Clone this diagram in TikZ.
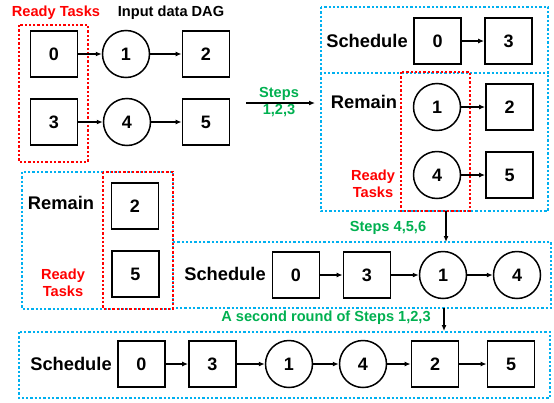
\documentclass[tikz,border=0pt]{standalone}
\usepackage{fontspec}
\setmainfont{Liberation Sans}
\usetikzlibrary{arrows.meta}
\definecolor{myred}{RGB}{255,0,0}
\definecolor{myblue}{RGB}{0,176,240}
\definecolor{mygreen}{RGB}{0,176,80}
\begin{document}
\begin{tikzpicture}[x=1pt,y=-1pt,
 sq/.style={draw, line width=1.8pt, minimum width=47pt, minimum height=46pt, inner sep=0pt, font=\bfseries\fontsize{18}{20}\selectfont},
 cir/.style={draw, circle, line width=1.5pt, minimum size=47pt, inner sep=0pt, font=\bfseries\fontsize{18}{20}\selectfont},
 big/.style={font=\bfseries\fontsize{18.3}{20}\selectfont, inner sep=0pt},
 small/.style={font=\bfseries\fontsize{14.6}{17}\selectfont, inner sep=0pt, align=center},
 arr/.style={-{Latex[length=6pt,width=5pt]}, line width=1.3pt},
 bluebox/.style={draw=myblue, line width=2.7pt, dash pattern=on 2.3pt off 2pt},
 redbox/.style={draw=myred, line width=2.7pt, dash pattern=on 2.3pt off 2pt},
]
\useasboundingbox (0,0) rectangle (554,402);

% ---------- dotted frames ----------
\draw[redbox] (19,25) rectangle (88,162);
\draw[bluebox] (321,7) rectangle (548,73);
\draw[bluebox] (321,73) -- (321,211) -- (548,211) -- (548,73);
\draw[redbox] (401,72) rectangle (470,211);
\draw[bluebox] (22,172) rectangle (173,309);
\draw[bluebox] (173,242) rectangle (551,308);
\draw[redbox] (103,172) rectangle (173,309);
\draw[bluebox] (19,332) rectangle (550,398);

% ---------- input DAG ----------
\node[small, text=myred] (lready) at (56,13) {Ready Tasks};
\node[small] (ldag) at (171,13) {Input data DAG};
\node[sq] (a0) at (54,54) {0};
\node[cir] (a1) at (126,54) {1};
\node[sq] (a2) at (206,54) {2};
\node[sq] (a3) at (54,122) {3};
\node[cir] (a4) at (127,122) {4};
\node[sq] (a5) at (206,122) {5};
\draw[arr] (a0) -- (a1);
\draw[arr] (a1) -- (a2);
\draw[arr] (a3) -- (a4);
\draw[arr] (a4) -- (a5);

% steps 1,2,3 arrow
\coordinate (s1a) at (246,103);
\coordinate (s1b) at (315,103);
\draw[arr] (s1a) -- (s1b);
\node[small, text=mygreen] (ls1) at (279,94) {Steps};
\node[small, text=mygreen] (ls2) at (279,111) {1,2,3};

% ---------- top right ----------
\node[big] (sch1) at (367,41) {Schedule};
\node[sq] (b0) at (437.5,41) {0};
\node[sq] (b3) at (508.5,41) {3};
\draw[arr] (b0) -- (b3);
\node[big] (rem1) at (364,102) {Remain};
\node[small, text=myred] (rt1) at (373,184) {Ready\\Tasks};
\node[cir] (b1) at (437,107) {1};
\node[sq] (b2) at (509.5,107) {2};
\node[cir] (b4) at (437,175) {4};
\node[sq] (b5) at (509.5,175) {5};
\draw[arr] (b1) -- (b2);
\draw[arr] (b4) -- (b5);

% steps 4,5,6
\coordinate (s2a) at (446,211);
\coordinate (s2b) at (446,242);
\draw[arr] (s2a) -- (s2b);
\node[small, text=mygreen] (ls3) at (388,228) {Steps 4,5,6};

% ---------- middle left ----------
\node[big] (rem2) at (61,203) {Remain};
\node[small, text=myred] (rt2) at (63,283) {Ready\\Tasks};
\node[sq] (c2) at (135,206) {2};
\node[sq] (c5) at (135.5,274) {5};

% ---------- middle schedule ----------
\node[big] (sch2) at (225,274) {Schedule};
\node[sq] (d0) at (296,275) {0};
\node[sq] (d3) at (367,275) {3};
\node[cir] (d1) at (443,275) {1};
\node[cir] (d4) at (517,275) {4};
\draw[arr] (d0) -- (d3);
\draw[arr] (d3) -- (d1);
\draw[arr] (d1) -- (d4);

% second round
\coordinate (s3a) at (444,308);
\coordinate (s3b) at (444,331);
\draw[arr] (s3a) -- (s3b);
\node[small, text=mygreen] (ls4) at (326,318) {A second round of Steps 1,2,3};

% ---------- bottom schedule ----------
\node[big] (sch3) at (71,364) {Schedule};
\node[sq] (e0) at (141.5,364) {0};
\node[sq] (e3) at (212.5,364) {3};
\node[cir] (e1) at (289,364) {1};
\node[cir] (e4) at (363,364) {4};
\node[sq] (e2) at (435,364) {2};
\node[sq] (e5) at (511,364) {5};
\draw[arr] (e0) -- (e3);
\draw[arr] (e3) -- (e1);
\draw[arr] (e1) -- (e4);
\draw[arr] (e4) -- (e2);
\draw[arr] (e2) -- (e5);
\end{tikzpicture}
\end{document}
